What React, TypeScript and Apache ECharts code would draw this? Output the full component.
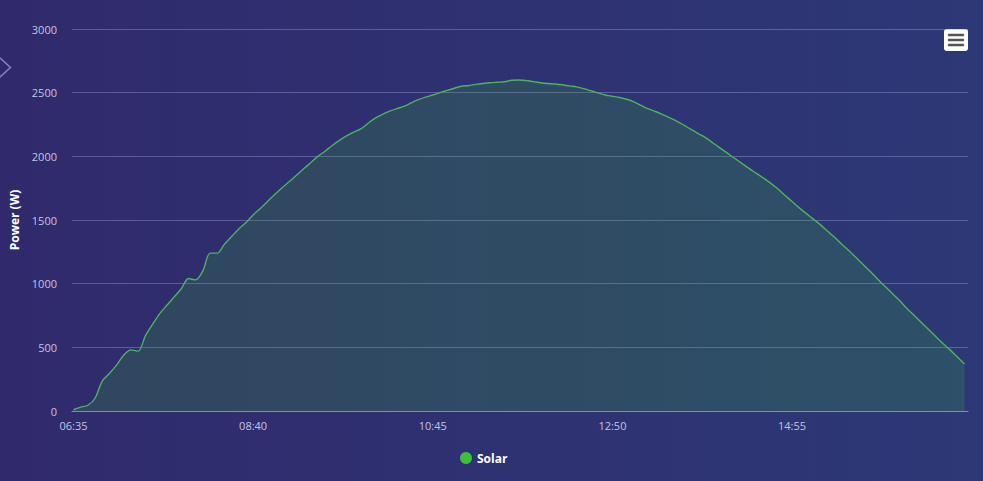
import React, { useEffect, useRef } from "react";
import * as echarts from "echarts";

const times: string[] = [
  "06:35", "06:40", "06:45", "06:50", "06:55",
  "07:00", "07:05", "07:10", "07:15", "07:20", "07:25", "07:30", "07:35", "07:40", "07:45", "07:50", "07:55",
  "08:00", "08:05", "08:10", "08:15", "08:20", "08:25", "08:30", "08:35", "08:40", "08:45", "08:50", "08:55",
  "09:00", "09:05", "09:10", "09:15", "09:20", "09:25", "09:30", "09:35", "09:40", "09:45", "09:50", "09:55",
  "10:00", "10:05", "10:10", "10:15", "10:20", "10:25", "10:30", "10:35", "10:40", "10:45", "10:50", "10:55",
  "11:00", "11:05", "11:10", "11:15", "11:20", "11:25", "11:30", "11:35", "11:40", "11:45", "11:50", "11:55",
  "12:00", "12:05", "12:10", "12:15", "12:20", "12:25", "12:30", "12:35", "12:40", "12:45", "12:50", "12:55",
  "13:00", "13:05", "13:10", "13:15", "13:20", "13:25", "13:30", "13:35", "13:40", "13:45", "13:50", "13:55",
  "14:00", "14:05", "14:10", "14:15", "14:20", "14:25", "14:30", "14:35", "14:40", "14:45", "14:50", "14:55",
  "15:00", "15:05", "15:10", "15:15", "15:20", "15:25", "15:30", "15:35", "15:40", "15:45", "15:50", "15:55",
  "16:00", "16:05", "16:10", "16:15", "16:20", "16:25", "16:30", "16:35", "16:40", "16:45", "16:50", "16:55",
];

const solar: number[] = [
  10, 30, 45, 100, 235, 295, 360, 440, 480, 470,
  590, 680, 765, 830, 895, 960, 1040, 1030, 1100, 1240,
  1240, 1310, 1370, 1430, 1480, 1540, 1590, 1645, 1700, 1752,
  1800, 1850, 1900, 1950, 2000, 2040, 2085, 2125, 2160, 2190,
  2215, 2260, 2300, 2330, 2355, 2375, 2392, 2420, 2445, 2465,
  2482, 2500, 2518, 2535, 2550, 2556, 2565, 2572, 2578, 2582,
  2586, 2597, 2600, 2596, 2587, 2578, 2572, 2568, 2562, 2553,
  2545, 2532, 2515, 2498, 2482, 2472, 2462, 2448, 2428, 2400,
  2372, 2352, 2328, 2302, 2275, 2243, 2210, 2177, 2145, 2105,
  2065, 2025, 1985, 1945, 1905, 1868, 1830, 1790, 1745, 1695,
  1645, 1595, 1550, 1505, 1460, 1410, 1360, 1305, 1255, 1200,
  1145, 1090, 1030, 975, 920, 865, 805, 750, 695, 640,
  585, 530, 480, 425, 370,
];

const yTicks = { min: 0, max: 3000, interval: 500 };
const seriesName = "Solar";
const yAxisName = "Power (W)";

const FONT = "'Open Sans', sans-serif";

export default function App() {
  const ref = useRef<HTMLDivElement>(null);

  useEffect(() => {
    if (!ref.current) return;
    const chart = echarts.init(ref.current, undefined, { renderer: "svg" });
    chart.setOption({
      animation: false,
      backgroundColor: new echarts.graphic.LinearGradient(0, 0, 1, 0, [
        { offset: 0, color: "#302a6c" },
        { offset: 1, color: "#2d3877" },
      ]),
      textStyle: { fontFamily: FONT },
      grid: [
        { left: 70, right: 15, top: 29, bottom: 70 },
        { left: 73.5, right: 18.5, top: 29, bottom: 70 },
      ],
      legend: {
        data: [{ name: seriesName, icon: "circle" }],
        left: 455,
        top: 447,
        itemWidth: 12,
        itemHeight: 12,
        itemGap: 10,
        textStyle: { color: "#ffffff", fontWeight: "bold", fontSize: 12, fontFamily: FONT },
      },
      xAxis: [
        {
          gridIndex: 0,
          type: "value",
          min: 0,
          max: 1,
          axisLine: { show: true, lineStyle: { color: "#8587c0", width: 1 } },
          axisTick: { show: false },
          axisLabel: { show: false },
          splitLine: { show: false },
        },
        {
          gridIndex: 1,
          type: "category",
          data: times,
          boundaryGap: false,
          axisLine: { show: false },
          axisTick: { show: false },
          axisLabel: {
            interval: 24,
            color: "#c4c4e4",
            fontSize: 11,
            margin: 9,
            fontFamily: FONT,
          },
          splitLine: { show: false },
        },
      ],
      yAxis: [
        {
          gridIndex: 0,
          type: "value",
          min: yTicks.min,
          max: yTicks.max,
          interval: yTicks.interval,
          name: yAxisName,
          nameLocation: "middle",
          nameGap: 52,
          nameRotate: 90,
          nameTextStyle: { color: "#ffffff", fontWeight: "bold", fontSize: 12, fontFamily: FONT },
          axisLine: { show: false },
          axisTick: { show: false },
          axisLabel: {
            color: "#c4c4e4",
            fontSize: 11,
            margin: 15,
            fontFamily: FONT,
            formatter: (v: number) => String(v),
          },
          splitLine: { show: true, lineStyle: { color: "rgba(160,160,215,0.42)", width: 1 } },
        },
        {
          gridIndex: 1,
          type: "value",
          min: yTicks.min,
          max: yTicks.max,
          interval: yTicks.interval,
          show: false,
          splitLine: { show: false },
        },
      ],
      series: [
        {
          name: seriesName,
          type: "line",
          xAxisIndex: 1,
          yAxisIndex: 1,
          data: solar,
          smooth: 0.3,
          symbol: "none",
          lineStyle: { color: "#4bb45c", width: 1.4 },
          itemStyle: { color: "#3cc13c" },
          areaStyle: { color: "rgba(55,175,50,0.29)" },
        },
      ],
      graphic: [
        {
          type: "polyline",
          shape: { points: [[-1, 57], [10.5, 67.5], [-1, 78]] },
          style: { stroke: "#8682bf", lineWidth: 1.5, fill: "none" },
        },
        {
          type: "rect",
          shape: { x: 944, y: 29, width: 24, height: 22, r: 3 },
          style: { fill: "#ffffff" },
        },
        {
          type: "line",
          shape: { x1: 949, y1: 35, x2: 963, y2: 35 },
          style: { stroke: "#555555", lineWidth: 2.5, lineCap: "round" },
        },
        {
          type: "line",
          shape: { x1: 949, y1: 40, x2: 963, y2: 40 },
          style: { stroke: "#555555", lineWidth: 2.5, lineCap: "round" },
        },
        {
          type: "line",
          shape: { x1: 949, y1: 45, x2: 963, y2: 45 },
          style: { stroke: "#555555", lineWidth: 2.5, lineCap: "round" },
        },
      ],
    });
    return () => chart.dispose();
  }, []);

  return (
    <div
      ref={ref}
      style={{ position: "absolute", left: 0, top: 0, width: 983, height: 481 }}
    />
  );
}
